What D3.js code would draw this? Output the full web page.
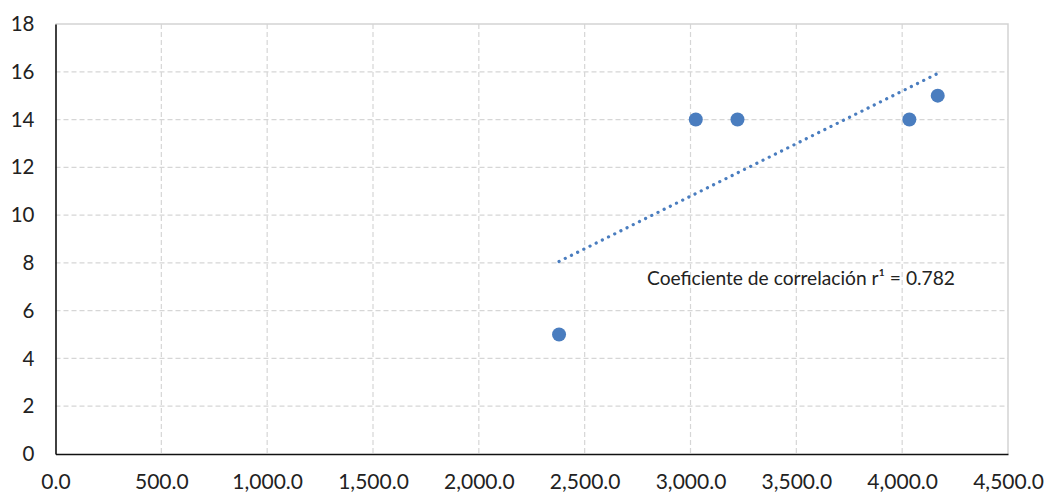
<!DOCTYPE html>
<html>
<head>
<meta charset="utf-8">
<script src="https://cdn.jsdelivr.net/npm/d3@7"></script>
<style>
  body { margin: 0; background: #fff; }
  svg text { font-family: Lato, "Open Sans", sans-serif; fill: #222; }
</style>
</head>
<body>
<svg id="chart" width="1048" height="496"></svg>
<script>
// data
var xValues = [2379, 3025, 3222, 4034, 4168];
var yValues = [5, 14, 14, 14, 15];
var xTicks = [0, 500, 1000, 1500, 2000, 2500, 3000, 3500, 4000, 4500];
var yTicks = [0, 2, 4, 6, 8, 10, 12, 14, 16, 18];
var noteText = 'Coeficiente de correlación r\u00B9 = 0.782';

var points = xValues.map((x, i) => ({x: x, y: yValues[i]}));

var svg = d3.select('svg#chart');

var x = d3.scaleLinear()
  .domain([0, 4500])
  .range([55.5, 1008]);

var y = d3.scaleLinear()
  .domain([0, 18])
  .range([454, 24]);

// grid
svg.append('g').selectAll('line.vgrid').data(xTicks.slice(1, -1)).enter().append('line')
  .attr('x1', d => x(d)).attr('x2', d => x(d))
  .attr('y1', y(18)).attr('y2', y(0))
  .attr('stroke', '#d6d6d6')
  .attr('stroke-width', 1.2)
  .attr('stroke-dasharray', '5,3');

svg.append('g').selectAll('line.hgrid').data(yTicks.slice(1, -1)).enter().append('line')
  .attr('x1', x(0)).attr('x2', x(4500))
  .attr('y1', d => y(d)).attr('y2', d => y(d))
  .attr('stroke', '#d6d6d6')
  .attr('stroke-width', 1.2)
  .attr('stroke-dasharray', '5,3');

// top and right border
svg.append('path')
  .attr('d', 'M' + x(0) + ',' + y(18) + 'H' + x(4500) + 'V' + y(0))
  .attr('fill', 'none')
  .attr('stroke', '#d3d3d3')
  .attr('stroke-width', 1.5);

// axes
var xAxis = svg.append('g')
  .attr('transform', 'translate(0,' + y(0) + ')')
  .call(d3.axisBottom(x).tickValues(xTicks).tickSize(0).tickPadding(16)
    .tickFormat(d3.format(',.1f')));
xAxis.select('.domain').attr('stroke', '#111').attr('stroke-width', 1.6);
xAxis.selectAll('text').attr('font-size', 21).attr('dy', '0.9em');

var yAxis = svg.append('g')
  .attr('transform', 'translate(' + x(0) + ',0)')
  .call(d3.axisLeft(y).tickValues(yTicks).tickSize(0).tickPadding(21));
yAxis.select('.domain').attr('stroke', '#111').attr('stroke-width', 1.6);
yAxis.selectAll('text').attr('font-size', 20.5);

// trend line (least squares from the points)
var mx = d3.mean(points, d => d.x), my = d3.mean(points, d => d.y);
var slope = d3.sum(points, d => (d.x - mx) * (d.y - my)) / d3.sum(points, d => (d.x - mx) * (d.x - mx));
var icpt = my - slope * mx;
var ext = d3.extent(xValues);

svg.append('line')
  .attr('x1', x(ext[0])).attr('y1', y(icpt + slope * ext[0]))
  .attr('x2', x(ext[1])).attr('y2', y(icpt + slope * ext[1]))
  .attr('stroke', '#4a7dbf')
  .attr('stroke-width', 3.2)
  .attr('stroke-linecap', 'round')
  .attr('stroke-dasharray', '0.1,6.8');

// points
svg.append('g').selectAll('circle').data(points).enter().append('circle')
  .attr('cx', d => x(d.x))
  .attr('cy', d => y(d.y))
  .attr('r', 7)
  .attr('fill', '#4a7dbf');

// note
svg.append('text')
  .attr('x', 647)
  .attr('y', 285)
  .attr('font-size', 19.2)
  .text(noteText);
</script>
</body>
</html>
